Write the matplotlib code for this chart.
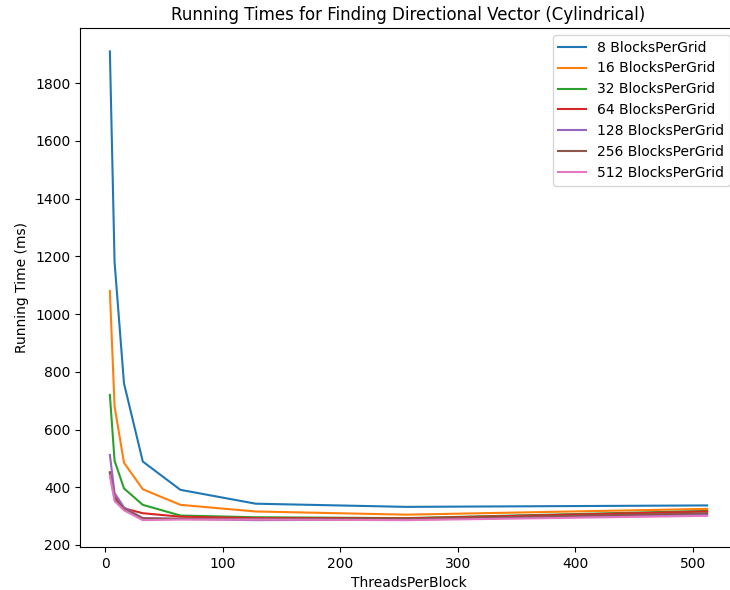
import matplotlib
matplotlib.use('Agg')
import matplotlib.pyplot as plt

# threads per block tested
threads = [4, 8, 16, 32, 64, 128, 256, 512]

# running times (ms) for each blocks-per-grid setting
t8 = [1910, 1180, 760, 489, 391, 343, 332, 337]
t16 = [1080, 680, 485, 393, 339, 316, 305, 325]
t32 = [720, 492, 396, 339, 302, 296, 293, 318]
t64 = [452, 367, 327, 310, 298, 293, 292, 316]
t128 = [512, 380, 330, 293, 290, 286, 288, 305]
t256 = [450, 360, 325, 292, 291, 290, 290, 310]
t512 = [440, 352, 320, 286, 288, 288, 286, 301]

series = [t8, t16, t32, t64, t128, t256, t512]
labels = ['8 BlocksPerGrid', '16 BlocksPerGrid', '32 BlocksPerGrid',
          '64 BlocksPerGrid', '128 BlocksPerGrid', '256 BlocksPerGrid',
          '512 BlocksPerGrid']

fig = plt.figure(figsize=(7.3, 5.9), dpi=100)
ax = fig.add_axes([0.1096, 0.0729, 0.9, 0.8796])

for s, lab in zip(series, labels):
    ax.plot(threads, s, label=lab)

ax.set_xlim(-21.4, 537.4)
ax.set_ylim(193, 1991)
ax.set_xticks([0, 100, 200, 300, 400, 500])
ax.set_yticks([200, 400, 600, 800, 1000, 1200, 1400, 1600, 1800])

ax.set_title('Running Times for Finding Directional Vector (Cylindrical)')
ax.set_xlabel('ThreadsPerBlock')
ax.set_ylabel('Running Time (ms)')
ax.legend(loc='upper right')

fig.savefig('out.png', dpi=100)
